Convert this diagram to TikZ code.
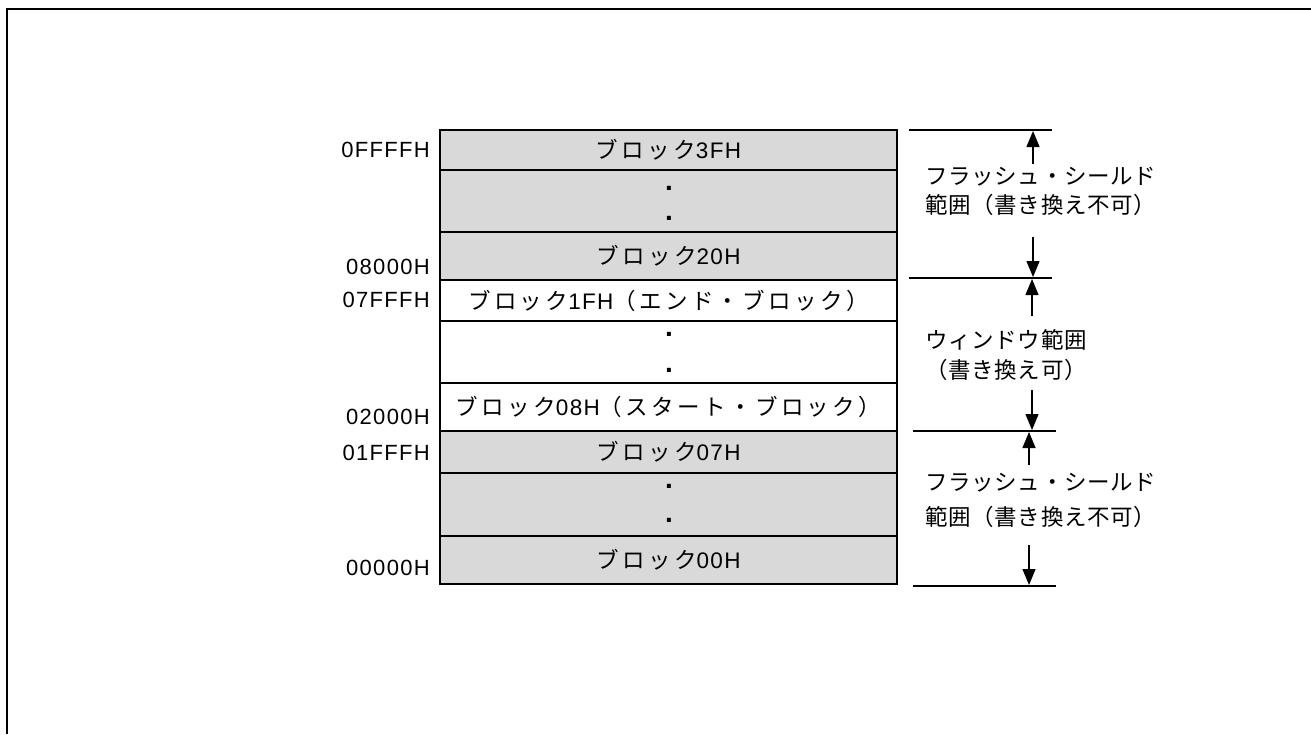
\documentclass[tikz,border=0pt]{standalone}
\usepackage{fontspec}
\setmainfont{Liberation Sans}
\newfontfamily\jpa[LetterSpace=15]{Noto Sans CJK JP}
\newfontfamily\lta[LetterSpace=6]{Liberation Sans}
\newfontfamily\jpb[LetterSpace=3]{Noto Sans CJK JP}
\usetikzlibrary{arrows.meta}
\definecolor{blkgray}{HTML}{D9D9D9}
\newcommand{\J}[1]{{\jpa #1}}
\newcommand{\Lt}[1]{{\lta #1}}
\begin{document}
\begin{tikzpicture}[x=1pt,y=-1pt,
  every node/.style={font=\fontsize{22.5}{26}\selectfont, inner sep=0pt},
  rowbox/.style={draw, line width=1.3pt, minimum width=457pt, anchor=north, outer sep=0pt},
  grayrow/.style={rowbox, fill=blkgray},
  whiterow/.style={rowbox, fill=white},
  addr/.style={anchor=east, font=\fontsize{22}{26}\selectfont\lta},
  dotmark/.style={font=\bfseries\fontsize{28}{30}\selectfont},
  note/.style={anchor=west, font=\fontsize{22.5}{26}\selectfont\jpb},
  bound/.style={line width=1.3pt},
  dim/.style={line width=1.3pt, -{Triangle[length=16pt,width=13pt]}}]
\useasboundingbox (0,0) rectangle (1311,734);
\draw[line width=2.2pt] (7,734) -- (7,9) -- (1311,9);

% memory map rows
\node[grayrow, minimum height=40pt] (r1) at (668.5,130) {\J{ブロック}\Lt{3FH}};
\node[grayrow, minimum height=62pt] (r2) at (668.5,170) {};
\node[grayrow, minimum height=48pt] (r3) at (668.5,232) {\J{ブロック}\Lt{20H}};
\node[whiterow, minimum height=41pt] (r4) at (668.5,280) {\J{ブロック}\Lt{1FH}\J{（エンド・ブロック）}};
\node[whiterow, minimum height=62pt] (r5) at (668.5,321) {};
\node[whiterow, minimum height=48pt] (r6) at (668.5,383) {\J{ブロック}\Lt{08H}\J{（スタート・ブロック）}};
\node[grayrow, minimum height=42pt] (r7) at (668.5,431) {\J{ブロック}\Lt{07H}};
\node[grayrow, minimum height=63pt] (r8) at (668.5,473) {};
\node[grayrow, minimum height=48pt] (r9) at (668.5,536) {\J{ブロック}\Lt{00H}};

% dots
\node[dotmark] (d1) at (669,188) {.};
\node[dotmark] (d2) at (669,218) {.};
\node[dotmark] (d3) at (669,334) {.};
\node[dotmark] (d4) at (669,370) {.};
\node[dotmark] (d5) at (669,486) {.};
\node[dotmark] (d6) at (669,520) {.};

% addresses
\node[addr] (a1) at (430,150) {0FFFFH};
\node[addr] (a2) at (430,267) {08000H};
\node[addr] (a3) at (430,300) {07FFFH};
\node[addr] (a4) at (430,417) {02000H};
\node[addr] (a5) at (430,453) {01FFFH};
\node[addr] (a6) at (430,568) {00000H};

% boundary lines
\coordinate (b1l) at (909,130); \coordinate (b1r) at (1052,130);
\coordinate (b2l) at (909,278); \coordinate (b2r) at (1052,278);
\coordinate (b3l) at (913,431); \coordinate (b3r) at (1056,431);
\coordinate (b4l) at (913,586); \coordinate (b4r) at (1056,586);
\draw[bound] (b1l) -- (b1r);
\draw[bound] (b2l) -- (b2r);
\draw[bound] (b3l) -- (b3r);
\draw[bound] (b4l) -- (b4r);

% range labels
\node[note] (n1a) at (925,177) {フラッシュ・シールド};
\node[note] (n1b) at (925,205) {範囲（書き換え不可）};
\node[note] (n2a) at (925,340) {ウィンドウ範囲};
\node[note] (n2b) at (925,370) {（書き換え可）};
\node[note] (n3a) at (925,483) {フラッシュ・シールド};
\node[note] (n3b) at (925,517) {範囲（書き換え不可）};

% arrows
\coordinate (u1s) at (1033,164); \coordinate (u1e) at (1033,131);
\coordinate (w1s) at (1033,237); \coordinate (w1e) at (1033,277);
\coordinate (u2s) at (1032,316); \coordinate (u2e) at (1032,279);
\coordinate (w2s) at (1032,390); \coordinate (w2e) at (1032,430);
\coordinate (u3s) at (1029,465); \coordinate (u3e) at (1029,432);
\coordinate (w3s) at (1029,545); \coordinate (w3e) at (1029,585);
\draw[dim] (u1s) -- (u1e);
\draw[dim] (w1s) -- (w1e);
\draw[dim] (u2s) -- (u2e);
\draw[dim] (w2s) -- (w2e);
\draw[dim] (u3s) -- (u3e);
\draw[dim] (w3s) -- (w3e);
\end{tikzpicture}
\end{document}
